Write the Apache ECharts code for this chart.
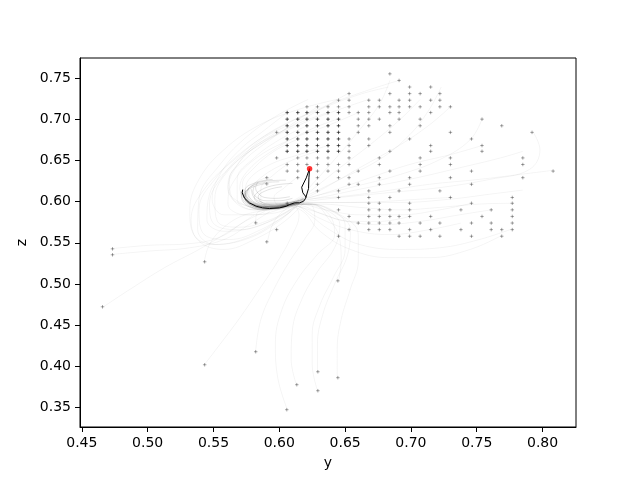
<!DOCTYPE html>
<html>
<head>
<meta charset="utf-8">
<script src="https://cdn.jsdelivr.net/npm/echarts@6/dist/echarts.min.js"></script>
<style>html,body{margin:0;padding:0;background:#fff}#c{width:640px;height:480px}</style>
</head>
<body>
<div id="c"></div>
<script>
// ---- data ----
const xTicks = [0.45, 0.50, 0.55, 0.60, 0.65, 0.70, 0.75, 0.80];
const yTicks = [0.35, 0.40, 0.45, 0.50, 0.55, 0.60, 0.65, 0.70, 0.75];

// lattice of starting values (y across, z down)
const colY = [0.598,0.606,0.614,0.621,0.629,0.637,0.645,0.653,0.660,0.668,0.676,0.684,0.691,0.699,0.707,0.715,0.722,0.730,0.738,0.746,0.754,0.761,0.769,0.777,0.785,0.792,0.800,0.808];
const rowZ = [0.755,0.747,0.739,0.731,0.723,0.715,0.708,0.700,0.692,0.684,0.676,0.668,0.661,0.653,0.645,0.637,0.629,0.621,0.613,0.605,0.598,0.590,0.582,0.574,0.566,0.558];
const rowCols = [
  [11],[12],[13,15],[7,11,13,14,16],[6,7,9,10,12,13,15,16],
  [3,4,5,6,7,9,10,11,12,13,14,16,17],
  [1,2,3,4,5,6,7,8,9,11,12,15],
  [1,2,3,4,5,6,8,9,10,12,14,20],
  [1,2,3,4,5,6,8,9,11,14,22],
  [0,1,2,3,4,5,6,8,11,17,25],
  [1,2,3,4,5,6,7,9,13,19],
  [1,2,3,4,5,6,7,9,15,20],
  [1,2,3,4,5,6,7,11,15,20],
  [0,2,3,4,5,7,10,14,17,24],
  [1,2,3,4,5,6,7,10,14,17,24],
  [1,2,4,5,6,8,11,14,19,27],
  [2,4,6,7,10,13,17,24],
  [4,7,8,10,13,19],
  [4,6,9,12,16],
  [6,9,11,17,23],
  [1,9,10,13,19,23],
  [6,9,10,11,13,18,21,23],
  [7,9,10,11,12,13,15,20,23],
  [8,9,10,11,12,14,16,19,21,23],
  [0,7,9,10,11,13,15,18,21,22,23],
  [6,12,13,14,16,19,22]
];
// starting values repeated many times (drawn darker)
const denseRows = [6,7,8,9,10,11,12];
const denseCols = [1,2,3,4,5,6];
// isolated starting values
const extraY = [0.5905,0.5905,0.5821,0.5905,0.4733,0.4733,0.4657,0.5433,0.6445,0.5821,0.5433,0.6293,0.6133,0.6293,0.6445,0.6057];
const extraZ = [0.629,0.6215,0.5742,0.5512,0.5427,0.5355,0.4724,0.5270,0.5039,0.4179,0.4021,0.3936,0.3779,0.3706,0.3864,0.3476];

const redY = [0.623];
const redZ = [0.640];

const blackPath = [[0.6205,0.6053],[0.6179,0.6106],[0.6170,0.6174],[0.6205,0.6288],[0.623,0.640],[0.6225,0.6288],[0.6222,0.6158],[0.6199,0.6037],[0.6184,0.6004],[0.6154,0.5985],[0.6116,0.5985],[0.6078,0.5964],[0.6053,0.5944],[0.6002,0.5924],[0.5925,0.5916],[0.5874,0.5924],[0.5824,0.5944],[0.5773,0.5985],[0.5735,0.6045],[0.5718,0.6106],[0.5722,0.6146]];

const fanPaths = [
  [[0.629,0.715],[0.615,0.700],[0.593,0.675],[0.574,0.651],[0.562,0.627],[0.564,0.605],[0.577,0.594],[0.593,0.590],[0.612,0.598],[0.620,0.605]],
  [[0.644,0.700],[0.623,0.687],[0.596,0.663],[0.577,0.639],[0.570,0.617],[0.576,0.600],[0.591,0.592],[0.609,0.597]],
  [[0.606,0.708],[0.589,0.687],[0.570,0.663],[0.555,0.633],[0.549,0.603],[0.558,0.584],[0.581,0.584],[0.604,0.593],[0.619,0.605]],
  [[0.652,0.731],[0.631,0.712],[0.604,0.687],[0.577,0.663],[0.558,0.633],[0.547,0.597],[0.551,0.572],[0.570,0.566],[0.593,0.576],[0.612,0.593]],
  [[0.622,0.724],[0.600,0.706],[0.577,0.681],[0.555,0.645],[0.539,0.603],[0.538,0.566],[0.551,0.548],[0.574,0.554],[0.596,0.572],[0.615,0.597]],
  [[0.598,0.684],[0.581,0.666],[0.566,0.639],[0.561,0.615],[0.570,0.599],[0.586,0.592],[0.606,0.595]],
  [[0.613,0.675],[0.596,0.661],[0.581,0.641],[0.572,0.621],[0.576,0.603],[0.589,0.593],[0.608,0.597],[0.622,0.607]],
  [[0.637,0.668],[0.615,0.657],[0.593,0.645],[0.577,0.627],[0.574,0.609],[0.583,0.595],[0.600,0.593],[0.615,0.599]],
  [[0.629,0.661],[0.608,0.649],[0.586,0.629],[0.577,0.609],[0.586,0.595],[0.604,0.594]],
  [[0.660,0.708],[0.638,0.693],[0.608,0.675],[0.581,0.651],[0.564,0.621],[0.561,0.597],[0.574,0.584],[0.596,0.586],[0.615,0.598]],
  [[0.668,0.724],[0.646,0.712],[0.615,0.693],[0.585,0.669],[0.561,0.639],[0.547,0.609],[0.545,0.578],[0.558,0.564],[0.581,0.569],[0.604,0.586],[0.619,0.603]],
  [[0.683,0.739],[0.661,0.730],[0.631,0.712],[0.596,0.687],[0.566,0.651],[0.543,0.615],[0.533,0.578],[0.539,0.552],[0.558,0.542],[0.581,0.554],[0.604,0.576],[0.619,0.599]],
  [[0.691,0.747],[0.669,0.736],[0.638,0.718],[0.604,0.693],[0.574,0.663],[0.551,0.627],[0.539,0.590],[0.543,0.560],[0.562,0.554],[0.586,0.566],[0.609,0.588]],
  [[0.606,0.645],[0.596,0.633],[0.586,0.615],[0.586,0.600],[0.596,0.593],[0.612,0.597]],
  [[0.613,0.629],[0.604,0.617],[0.596,0.605],[0.600,0.595],[0.614,0.599]],
  [[0.590,0.629],[0.579,0.620],[0.574,0.605],[0.583,0.595],[0.600,0.592]],
  [[0.606,0.692],[0.586,0.675],[0.570,0.649],[0.561,0.621],[0.566,0.600],[0.581,0.590],[0.604,0.593]],
  [[0.621,0.692],[0.600,0.675],[0.581,0.653],[0.568,0.627],[0.568,0.603],[0.581,0.590],[0.602,0.592],[0.619,0.603]],
  [[0.644,0.724],[0.615,0.712],[0.585,0.693],[0.558,0.663],[0.539,0.627],[0.532,0.590],[0.535,0.560],[0.551,0.548],[0.577,0.557],[0.600,0.578],[0.615,0.597]],
  [[0.637,0.708],[0.612,0.693],[0.585,0.669],[0.562,0.639],[0.551,0.603],[0.553,0.576],[0.570,0.569],[0.593,0.578],[0.612,0.594]]
];
const rightPaths = [
  [[0.808,0.638],[0.783,0.633],[0.752,0.627],[0.714,0.621],[0.676,0.612],[0.646,0.606],[0.623,0.603],[0.608,0.597],[0.594,0.594],[0.582,0.597],[0.575,0.606]],
  [[0.793,0.684],[0.798,0.663],[0.790,0.639],[0.760,0.627],[0.722,0.617],[0.684,0.611],[0.646,0.605],[0.615,0.599],[0.598,0.594],[0.584,0.595],[0.576,0.602],[0.574,0.611]],
  [[0.777,0.567],[0.752,0.554],[0.722,0.544],[0.692,0.542],[0.661,0.548],[0.638,0.566],[0.623,0.584],[0.612,0.595],[0.598,0.593],[0.585,0.596]],
  [[0.785,0.614],[0.760,0.609],[0.730,0.603],[0.692,0.599],[0.654,0.599],[0.623,0.599],[0.604,0.594],[0.590,0.592],[0.579,0.596],[0.574,0.604]],
  [[0.746,0.598],[0.722,0.590],[0.692,0.584],[0.661,0.584],[0.635,0.590],[0.615,0.597],[0.600,0.595],[0.588,0.596]],
  [[0.769,0.559],[0.745,0.542],[0.714,0.532],[0.684,0.532],[0.654,0.542],[0.631,0.564],[0.618,0.588],[0.605,0.594],[0.592,0.593],[0.580,0.598]],
  [[0.738,0.574],[0.714,0.566],[0.684,0.560],[0.654,0.566],[0.629,0.581],[0.615,0.594],[0.600,0.596]],
  [[0.754,0.700],[0.745,0.675],[0.722,0.651],[0.692,0.633],[0.654,0.617],[0.623,0.605],[0.608,0.597],[0.595,0.593],[0.583,0.595],[0.576,0.602],[0.573,0.610]],
  [[0.761,0.590],[0.737,0.584],[0.707,0.576],[0.676,0.572],[0.646,0.578],[0.623,0.590],[0.606,0.596],[0.592,0.596]],
  [[0.723,0.739],[0.714,0.712],[0.699,0.681],[0.676,0.651],[0.646,0.627],[0.623,0.609],[0.606,0.598],[0.591,0.595],[0.580,0.599]],
  [[0.707,0.724],[0.692,0.700],[0.669,0.669],[0.646,0.641],[0.627,0.617],[0.615,0.603],[0.601,0.597],[0.588,0.597]],
  [[0.777,0.598],[0.752,0.597],[0.722,0.593],[0.692,0.590],[0.661,0.593],[0.631,0.597],[0.612,0.597],[0.597,0.594],[0.585,0.595],[0.577,0.601]],
  [[0.785,0.661],[0.768,0.653],[0.737,0.641],[0.699,0.627],[0.661,0.615],[0.631,0.605],[0.612,0.600],[0.597,0.597]],
  [[0.754,0.668],[0.730,0.657],[0.699,0.645],[0.669,0.629],[0.638,0.612],[0.619,0.603],[0.603,0.598],[0.590,0.597],[0.581,0.601]],
  [[0.730,0.605],[0.707,0.603],[0.676,0.600],[0.646,0.599],[0.619,0.599],[0.602,0.596],[0.589,0.594]],
  [[0.699,0.582],[0.676,0.576],[0.654,0.576],[0.631,0.586],[0.615,0.595],[0.600,0.594],[0.587,0.595]],
  [[0.684,0.747],[0.676,0.718],[0.661,0.687],[0.642,0.651],[0.625,0.621],[0.615,0.605],[0.602,0.599],[0.590,0.599]],
  [[0.730,0.715],[0.714,0.693],[0.692,0.669],[0.661,0.641],[0.635,0.617],[0.618,0.603],[0.604,0.597],[0.592,0.595],[0.582,0.598]]
];
const lowerPaths = [
  [[0.606,0.348],[0.599,0.385],[0.597,0.427],[0.602,0.469],[0.614,0.506],[0.629,0.536],[0.642,0.560],[0.638,0.584],[0.623,0.597],[0.607,0.596],[0.593,0.593]],
  [[0.613,0.378],[0.609,0.409],[0.610,0.445],[0.617,0.481],[0.629,0.515],[0.642,0.544],[0.646,0.572],[0.631,0.593],[0.614,0.597],[0.598,0.594]],
  [[0.629,0.371],[0.625,0.403],[0.625,0.439],[0.631,0.475],[0.641,0.508],[0.650,0.542],[0.650,0.572],[0.635,0.593],[0.617,0.598],[0.601,0.595]],
  [[0.629,0.394],[0.629,0.427],[0.633,0.463],[0.642,0.500],[0.652,0.536],[0.654,0.566],[0.638,0.590],[0.620,0.597],[0.604,0.595]],
  [[0.644,0.387],[0.644,0.421],[0.647,0.457],[0.654,0.494],[0.660,0.528],[0.660,0.560],[0.642,0.588],[0.622,0.597],[0.606,0.596]],
  [[0.582,0.418],[0.586,0.457],[0.596,0.494],[0.608,0.528],[0.619,0.554],[0.627,0.578],[0.623,0.597],[0.608,0.596]],
  [[0.543,0.402],[0.555,0.427],[0.570,0.459],[0.585,0.494],[0.599,0.528],[0.609,0.557],[0.615,0.584],[0.612,0.596]],
  [[0.645,0.504],[0.647,0.528],[0.646,0.554],[0.638,0.578],[0.625,0.597],[0.609,0.597]],
  [[0.543,0.527],[0.547,0.548],[0.558,0.569],[0.574,0.584],[0.593,0.590]],
  [[0.473,0.543],[0.501,0.547],[0.532,0.549],[0.555,0.557],[0.574,0.576],[0.589,0.588]],
  [[0.473,0.536],[0.501,0.540],[0.532,0.544],[0.558,0.554],[0.577,0.572],[0.593,0.588]],
  [[0.466,0.472],[0.486,0.493],[0.513,0.520],[0.539,0.542],[0.562,0.564],[0.581,0.584]],
  [[0.582,0.574],[0.583,0.586],[0.591,0.590]],
  [[0.591,0.551],[0.594,0.569],[0.600,0.584],[0.608,0.594]]
];
// the crescent where the paths settle
const bowlPaths = [
  [[0.621,0.606],[0.612,0.598],[0.600,0.593],[0.590,0.591],[0.580,0.595],[0.574,0.603],[0.572,0.612]],
  [[0.618,0.604],[0.608,0.597],[0.597,0.594],[0.587,0.594],[0.579,0.598],[0.575,0.606],[0.574,0.614]],
  [[0.615,0.602],[0.604,0.597],[0.594,0.596],[0.585,0.597],[0.579,0.602],[0.576,0.610],[0.577,0.617]],
  [[0.612,0.600],[0.602,0.598],[0.592,0.598],[0.584,0.601],[0.580,0.607],[0.579,0.615]],
  [[0.620,0.603],[0.611,0.596],[0.599,0.592],[0.588,0.590],[0.578,0.593],[0.572,0.601],[0.571,0.611]],
  [[0.616,0.599],[0.606,0.595],[0.595,0.593],[0.584,0.593],[0.576,0.598],[0.573,0.606]],
  [[0.610,0.604],[0.600,0.601],[0.590,0.601],[0.583,0.605],[0.580,0.612],[0.581,0.619]],
  [[0.606,0.596],[0.596,0.592],[0.586,0.592],[0.578,0.596],[0.574,0.603],[0.573,0.610]],
  [[0.619,0.600],[0.609,0.594],[0.598,0.591],[0.586,0.591],[0.577,0.595],[0.572,0.604],[0.571,0.613]],
  [[0.608,0.606],[0.598,0.604],[0.589,0.605],[0.584,0.610],[0.582,0.617],[0.584,0.624]],
  [[0.600,0.624],[0.585,0.622],[0.576,0.615],[0.574,0.605],[0.582,0.596],[0.596,0.592],[0.612,0.597]],
  [[0.605,0.626],[0.590,0.625],[0.579,0.619],[0.575,0.609],[0.580,0.599],[0.593,0.594],[0.608,0.597]],
  [[0.595,0.627],[0.582,0.623],[0.574,0.614],[0.574,0.603],[0.583,0.595],[0.598,0.593]],
  [[0.610,0.622],[0.597,0.620],[0.586,0.614],[0.581,0.605],[0.587,0.597],[0.601,0.595],[0.614,0.599]],
  [[0.590,0.622],[0.579,0.617],[0.573,0.608],[0.577,0.598],[0.589,0.592],[0.604,0.594]],
  [[0.602,0.618],[0.591,0.614],[0.584,0.606],[0.588,0.598],[0.600,0.596],[0.611,0.599]]
];

// ---- build ----
const startPts = [];
rowCols.forEach((cols, r) => cols.forEach(c => startPts.push([colY[c], rowZ[r]])));
extraY.forEach((v, i) => startPts.push([v, extraZ[i]]));
const densePts = [];
denseRows.forEach(r => denseCols.forEach(c => { if (rowCols[r].includes(c)) densePts.push([colY[c], rowZ[r]]); }));

const FONT = 'DejaVu Sans';
const plus = 'path://M0,5L10,5M5,0L5,10';
const series = [];
[...fanPaths, ...rightPaths, ...lowerPaths].forEach(p => series.push({
  type: 'line', data: p, symbol: 'none', smooth: 0.4, silent: true, z: 1,
  lineStyle: { color: 'rgba(0,0,0,0.06)', width: 0.8 }
}));
bowlPaths.forEach(p => series.push({
  type: 'line', data: p, symbol: 'none', smooth: 0.4, silent: true, z: 1,
  lineStyle: { color: 'rgba(0,0,0,0.13)', width: 0.9 }
}));
series.push({
  type: 'scatter', data: startPts, symbol: plus, symbolSize: 3.5, silent: true, z: 2,
  itemStyle: { color: 'none', borderColor: 'rgba(0,0,0,0.47)', borderWidth: 0.9 }
});
series.push({
  type: 'scatter', data: densePts, symbol: plus, symbolSize: 3.5, silent: true, z: 3,
  itemStyle: { color: 'none', borderColor: 'rgba(0,0,0,0.55)', borderWidth: 0.9 }
});
series.push({
  type: 'line', data: blackPath, symbol: 'none', silent: true, z: 4,
  lineStyle: { color: '#000', width: 1 }
});
series.push({
  type: 'scatter', data: redY.map((v, i) => [v, redZ[i]]), symbol: 'circle', symbolSize: 5.5, silent: true, z: 5,
  itemStyle: { color: '#ff0000' }
});

const chart = echarts.init(document.getElementById('c'), null, { renderer: 'canvas' });
chart.setOption({
  animation: false,
  backgroundColor: '#fff',
  grid: { left: 80, right: 64, top: 58, bottom: 53, show: true, borderColor: '#000', borderWidth: 1 },
  xAxis: {
    type: 'value', min: 0.4486, max: 0.8254,
    name: 'y', nameLocation: 'middle', nameGap: 29,
    nameTextStyle: { fontFamily: FONT, fontSize: 14, color: '#000' },
    axisLine: { show: true, lineStyle: { color: '#000', width: 1 } },
    axisTick: { show: true, length: 5, customValues: xTicks, lineStyle: { color: '#000' } },
    axisLabel: { customValues: xTicks, margin: 9, fontFamily: FONT, fontSize: 14, color: '#000', formatter: v => v.toFixed(2) },
    splitLine: { show: false }
  },
  yAxis: {
    type: 'value', min: 0.3266, max: 0.7742,
    name: 'z', nameLocation: 'middle', nameGap: 47, nameRotate: 90,
    nameTextStyle: { fontFamily: FONT, fontSize: 14, color: '#000' },
    axisLine: { show: true, lineStyle: { color: '#000', width: 1 } },
    axisTick: { show: true, length: 5, customValues: yTicks, lineStyle: { color: '#000' } },
    axisLabel: { customValues: yTicks, margin: 9, fontFamily: FONT, fontSize: 14, color: '#000', formatter: v => v.toFixed(2) },
    splitLine: { show: false }
  },
  series: series
});
</script>
</body>
</html>
